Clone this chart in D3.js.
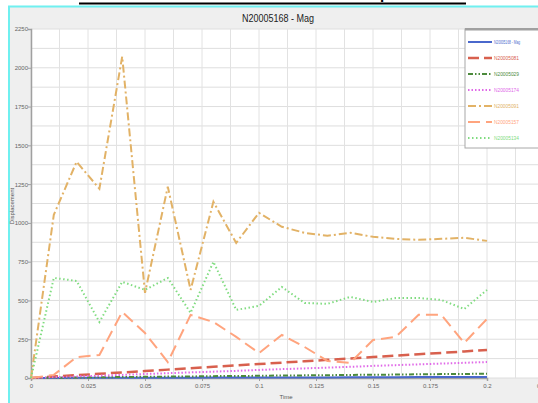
<!DOCTYPE html>
<html>
<head>
<meta charset="utf-8">
<script src="https://cdn.jsdelivr.net/npm/d3@7"></script>
<style>
  html, body { margin: 0; padding: 0; background: #ffffff; }
  svg { display: block; font-family: "Liberation Sans", Arial, sans-serif; }
</style>
</head>
<body>
<svg id="chart" width="538" height="403"></svg>
<script>
// ---------- data ----------
const times = [0, 0.01, 0.02, 0.03, 0.04, 0.05, 0.06, 0.07, 0.08, 0.09, 0.1,
               0.11, 0.12, 0.13, 0.14, 0.15, 0.16, 0.17, 0.18, 0.19, 0.2];
const seriesNames = ["N20005168 - Mag", "N20005081", "N20005029", "N20005174",
                     "N20005091", "N20005157", "N20005134"];
const blueValues     = [0, 0, 1, 1, 1, 2, 2, 2, 3, 3, 3, 4, 4, 4, 5, 5, 5, 6, 6, 7, 7];
const redValues      = [0, 9, 18, 27, 36, 45, 54, 63, 72, 81, 90, 99, 108, 117, 126, 135, 144, 153, 162, 171, 181];
const darkGreenValues= [0, 2, 3, 5, 6, 8, 9, 10, 12, 13, 14, 16, 17, 18, 20, 21, 22, 24, 25, 26, 28];
const magentaValues  = [0, 5, 10, 15, 20, 26, 31, 36, 41, 46, 52, 57, 62, 67, 72, 78, 83, 88, 93, 98, 103];
const goldValues     = [0, 1052, 1394, 1220, 2072, 549, 1233, 568, 1136, 871, 1065, 975, 936, 917, 936, 910, 897, 891, 897, 904, 884];
const salmonValues   = [0, 20, 135, 148, 426, 290, 103, 407, 361, 265, 161, 278, 200, 110, 97, 245, 265, 407, 407, 226, 381];
const lightGreenValues=[0, 645, 626, 361, 620, 568, 645, 420, 749, 439, 465, 587, 484, 478, 523, 490, 516, 516, 503, 445, 568];
const yTicks = [0, 250, 500, 750, 1000, 1250, 1500, 1750, 2000, 2250];
const xTicks = [0, 0.025, 0.05, 0.075, 0.1, 0.125, 0.15, 0.175, 0.2, 0.225];
const chartTitle = "N20005168 - Mag";
const heading = "Plot Results of Nodes for HV Graph";

const seriesValues = [blueValues, redValues, darkGreenValues, magentaValues,
                      goldValues, salmonValues, lightGreenValues];
const styles = [
  {color: "#4a68cc", dash: null, w: 2},
  {color: "#d8604e", dash: "11,5", w: 2.5},
  {color: "#4c8a3c", dash: "5,2,1.5,2,1.5,2", w: 2},
  {color: "#e068e8", dash: "1.5,2", w: 2},
  {color: "#e2b266", dash: "8,3,2,3", w: 2},
  {color: "#ffa47e", dash: "12,6", w: 2},
  {color: "#80dc80", dash: "1.5,2.5", w: 2}
];

// ---------- layout ----------
const svg = d3.select("#chart");
const pLeft = 31, pTop = 29, pBottom = 378, pRight = 548;
const x = d3.scaleLinear().domain([0, 0.2]).range([31, 487]);
const y = d3.scaleLinear().domain([0, 2250]).range([pBottom, pTop]);

svg.append("rect").attr("width", 538).attr("height", 403).attr("fill", "#ffffff");

// heading (clipped at top) and underline
svg.append("text").attr("x", 272).attr("y", -1.5).attr("text-anchor", "middle")
  .attr("font-size", 15).attr("font-weight", "bold").attr("fill", "#000").text(heading);
svg.append("line").attr("x1", 79).attr("x2", 466).attr("y1", 3.5).attr("y2", 3.5)
  .attr("stroke", "#000").attr("stroke-width", 2);

// panel
svg.append("rect").attr("x", 8).attr("y", 6).attr("width", 540).attr("height", 400).attr("fill", "#efefef");
svg.append("line").attr("x1", 8).attr("x2", 538).attr("y1", 6.5).attr("y2", 6.5).attr("stroke", "#6ff0f0").attr("stroke-width", 2);
svg.append("line").attr("x1", 9).attr("x2", 9).attr("y1", 6).attr("y2", 403).attr("stroke", "#6ff0f0").attr("stroke-width", 2);

// title
svg.append("text").attr("x", 278).attr("y", 22).attr("text-anchor", "middle")
  .attr("font-size", 10).attr("fill", "#222").attr("textLength", 72).attr("lengthAdjust", "spacingAndGlyphs")
  .text(chartTitle);

// plot area
svg.append("rect").attr("x", pLeft).attr("y", pTop).attr("width", pRight - pLeft).attr("height", pBottom - pTop).attr("fill", "#fff");

// grid
const g = svg.append("g");
const hGrid = d3.range(0, 2250 + 1, 125);
g.selectAll("line.h").data(hGrid).join("line")
  .attr("x1", pLeft).attr("x2", pRight).attr("y1", d => y(d)).attr("y2", d => y(d))
  .attr("stroke", "#dedede").attr("stroke-width", 1);
const vGrid = d3.range(0, 17).map(i => i * 0.0125).concat([0.2125]);
g.selectAll("line.v").data(vGrid).join("line")
  .attr("x1", d => x(d)).attr("x2", d => x(d)).attr("y1", pTop).attr("y2", pBottom)
  .attr("stroke", "#e2e2e2").attr("stroke-width", 1);

// axes
const yAxis = svg.append("g").attr("transform", `translate(${pLeft},0)`)
  .call(d3.axisLeft(y).tickValues(yTicks).tickSize(3).tickFormat(d3.format("d")));
const xAxis = svg.append("g").attr("transform", `translate(0,${pBottom})`)
  .call(d3.axisBottom(x).tickValues(xTicks).tickSize(3).tickFormat(d => d === 0 ? "0" : String(d)));
[yAxis, xAxis].forEach(a => {
  a.select(".domain").attr("stroke", "#a0a0a0").attr("stroke-width", 1.5);
  a.selectAll(".tick line").attr("stroke", "#a0a0a0");
  a.selectAll(".tick text").attr("fill", "#666").attr("font-size", 6).attr("font-family", "Liberation Sans Narrow, Liberation Sans, Arial");
});
yAxis.selectAll(".tick text").attr("x", -3);
xAxis.selectAll(".tick text").attr("y", 6);

// axis labels
svg.append("text").attr("transform", "translate(14,206) rotate(-90)").attr("text-anchor", "middle")
  .attr("font-size", 6).attr("fill", "#555").text("Displacement");
svg.append("text").attr("x", 286).attr("y", 399).attr("text-anchor", "middle")
  .attr("font-size", 6).attr("fill", "#555").text("Time");

// lines
const line = d3.line().x((d, i) => x(times[i])).y(d => y(d));
const lg = svg.append("g");
seriesValues.forEach((vals, k) => {
  lg.append("path").datum(vals).attr("d", line).attr("fill", "none")
    .attr("stroke", styles[k].color).attr("stroke-width", styles[k].w)
    .attr("stroke-dasharray", styles[k].dash);
});

// legend
const leg = svg.append("g");
leg.append("rect").attr("x", 465).attr("y", 29).attr("width", 80).attr("height", 119)
  .attr("fill", "#fff").attr("stroke", "#a8a8a8").attr("stroke-width", 1);
leg.append("rect").attr("x", 465).attr("y", 28).attr("width", 80).attr("height", 2.5).attr("fill", "#a0a0a0");
seriesNames.forEach((name, k) => {
  const yy = 42 + k * 16;
  leg.append("line").attr("x1", 468).attr("x2", 492).attr("y1", yy).attr("y2", yy)
    .attr("stroke", styles[k].color).attr("stroke-width", styles[k].w)
    .attr("stroke-dasharray", styles[k].dash);
  leg.append("text").attr("x", 494).attr("y", yy + 2).attr("font-size", 6)
    .attr("fill", styles[k].color).attr("textLength", k === 0 ? 26 : 25).attr("lengthAdjust", "spacingAndGlyphs")
    .text(name);
});
</script>
</body>
</html>
